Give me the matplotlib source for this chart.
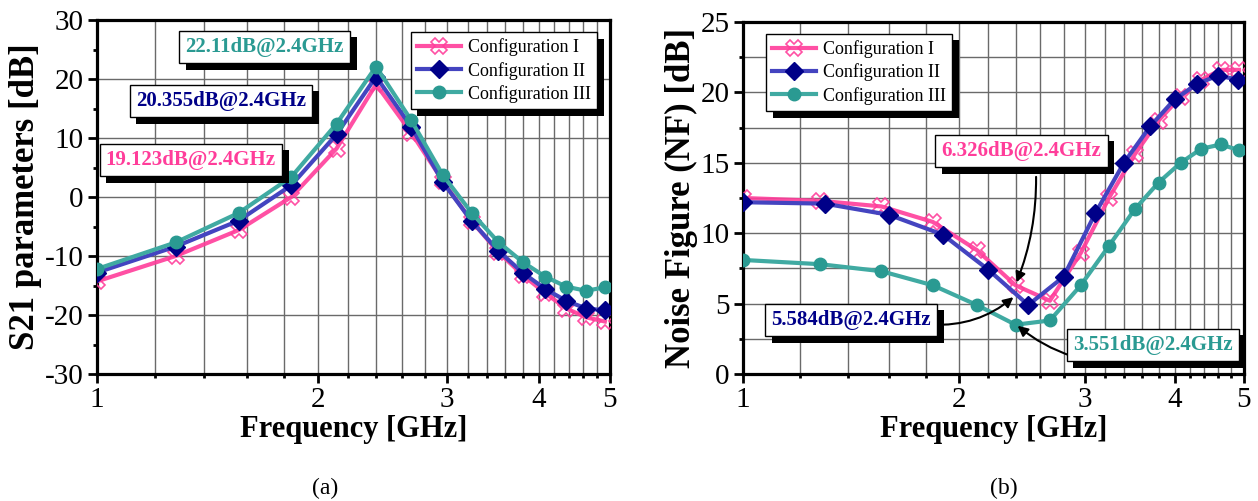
#!/usr/bin/env python3
# -*- coding: utf-8 -*-
"""
S21 / NF comparison of the three configurations
"""
import numpy as np
import matplotlib
matplotlib.use('Agg')
import matplotlib.pyplot as plt
from matplotlib.ticker import FixedLocator, FixedFormatter, NullFormatter
from matplotlib.transforms import ScaledTranslation
from matplotlib.patches import Rectangle

plt.rcParams['font.family'] = 'serif'
plt.rcParams['font.serif'] = ['Liberation Serif', 'DejaVu Serif']
plt.rcParams['axes.unicode_minus'] = False

# ---- data ----
freq_a = [1.00, 1.28, 1.56, 1.84, 2.12, 2.40, 2.68, 2.96, 3.24, 3.52, 3.80, 4.08, 4.36, 4.64, 4.92]
s21_cfg1 = [-14.3, -10.0, -5.6, 0.0, 8.2, 19.1, 10.9, 2.7, -4.1, -9.3, -13.2, -16.3, -18.9, -20.4, -21.1]
s21_cfg2 = [-12.8, -8.4, -4.0, 2.0, 10.6, 20.4, 11.9, 2.5, -4.1, -9.1, -12.8, -15.6, -17.6, -18.9, -19.2]
s21_cfg3 = [-12.2, -7.7, -2.7, 3.4, 12.4, 22.1, 13.0, 3.7, -2.7, -7.6, -11.0, -13.5, -15.2, -15.9, -15.3]

freq_b = [1.00, 1.28, 1.56, 1.84, 2.12, 2.40, 2.68, 2.96, 3.24, 3.52, 3.80, 4.08, 4.36, 4.64, 4.92]
freq_b2 = [1.0, 1.3, 1.6, 1.9, 2.2, 2.5, 2.8, 3.1, 3.4, 3.7, 4.0, 4.3, 4.6, 4.9]
nf_cfg1 = [12.5, 12.3, 11.9, 10.8, 8.8, 6.3, 5.2, 8.6, 12.5, 15.6, 18.0, 19.7, 20.9, 21.6, 21.6]
nf_cfg2 = [12.2, 12.1, 11.3, 9.9, 7.4, 4.9, 6.9, 11.4, 15.0, 17.6, 19.5, 20.6, 21.2, 20.9]
nf_cfg3 = [8.1, 7.8, 7.3, 6.3, 4.9, 3.5, 3.8, 6.3, 9.1, 11.7, 13.6, 15.0, 16.0, 16.3, 15.9]

labels = ['Configuration I', 'Configuration II', 'Configuration III']
x_ticks = [1, 2, 3, 4, 5]
x_ticklabels = ['1', '2', '3', '4', '5']

# peak / min annotations
s21_notes = ['19.123dB@2.4GHz', '20.355dB@2.4GHz', '22.11dB@2.4GHz']
nf_notes = ['6.326dB@2.4GHz', '5.584dB@2.4GHz', '3.551dB@2.4GHz']
nf_note_vals = [6.326, 5.584, 3.551]

# styles
PINK = '#FF3D9A'
NAVY = '#000088'
NAVY_LINE = '#4444C0'
TEAL = '#2A9A92'
TEAL_LINE = '#40AAA2'
GRID = '#6A6A6A'

styles = [
    dict(color=PINK, lw=3, marker='X', ms=11, mfc='none', mec=PINK, mew=1.2, alpha=0.9),
    dict(color=NAVY_LINE, lw=3, marker='D', ms=9, mfc=NAVY, mec=NAVY, mew=1),
    dict(color=TEAL_LINE, lw=3, marker='o', ms=9, mfc=TEAL, mec=TEAL, mew=1),
]
note_colors = [PINK, NAVY, TEAL]

SHADOW_OFF = 0.065  # inch


def style_axes(ax, ylim, ymajor, yminor, minor_grid):
    ax.set_xscale('log')
    ax.set_xlim(1, 5)
    ax.set_ylim(*ylim)
    ax.xaxis.set_major_locator(FixedLocator(x_ticks))
    ax.xaxis.set_major_formatter(FixedFormatter(x_ticklabels))
    minor = [round(v, 1) for v in np.arange(1.2, 5.0, 0.2) if abs(v - round(v)) > 1e-6]
    ax.xaxis.set_minor_locator(FixedLocator(minor))
    ax.xaxis.set_minor_formatter(NullFormatter())
    ax.yaxis.set_major_locator(FixedLocator(np.arange(ylim[0], ylim[1] + 0.1, ymajor)))
    ax.yaxis.set_minor_locator(FixedLocator(np.arange(ylim[0], ylim[1] + 0.1, yminor)))
    ax.tick_params(which='major', direction='out', length=6.5, width=2, labelsize=21, pad=3)
    ax.tick_params(which='minor', direction='out', length=3, width=2)
    for sp in ax.spines.values():
        sp.set_linewidth(2.3)
    ax.grid(True, which='major', color=GRID, lw=1)
    ax.grid(True, which='minor', axis='x', color=GRID, lw=1)
    if minor_grid:
        ax.grid(True, which='minor', axis='y', color=GRID, lw=1)
    ax.set_axisbelow(True)


def note_box(ax, x, y, text, color, fs=15):
    """白底黑框文本（阴影之后再加）"""
    return ax.text(x, y, text, transform=ax.transAxes, ha='center', va='center',
                   fontsize=fs, fontweight='bold', color=color, zorder=7,
                   bbox=dict(boxstyle='square,pad=0.3', fc='white', ec='black', lw=1))


def add_shadow(fig, ax, patch, zorder):
    bb = patch.get_window_extent()
    inv = ax.transAxes.inverted()
    (x0, y0), (x1, y1) = inv.transform([[bb.x0, bb.y0], [bb.x1, bb.y1]])
    off = ScaledTranslation(SHADOW_OFF, -SHADOW_OFF, fig.dpi_scale_trans)
    r = Rectangle((x0, y0), x1 - x0, y1 - y0, transform=ax.transAxes + off,
                  fc='black', ec='black', lw=0, zorder=zorder, clip_on=False)
    ax.add_patch(r)


fig = plt.figure(figsize=(12.58, 5.01), dpi=100)
ax1 = fig.add_axes([97 / 1258, 127 / 501, 513 / 1258, 354 / 501])
ax2 = fig.add_axes([743 / 1258, 127 / 501, 501 / 1258, 352 / 501])

# ---- (a) S21 ----
for y, st, lab in zip([s21_cfg1, s21_cfg2, s21_cfg3], styles, labels):
    ax1.plot(freq_a, y, label=lab, zorder=3, **st)
style_axes(ax1, (-30, 30), 10, 5, False)
ax1.set_xlabel('Frequency [GHz]', fontsize=22, fontweight='bold', labelpad=1)
ax1.set_ylabel('S21 parameters [dB]', fontsize=25, fontweight='bold', labelpad=2)
leg1 = ax1.legend(loc='upper right', bbox_to_anchor=(0.975, 0.966), borderaxespad=0,
                  fontsize=13, fancybox=False, edgecolor='black', framealpha=1,
                  handlelength=2.4, handletextpad=0.4, borderpad=0.35, labelspacing=0.3)
leg1.get_frame().set_linewidth(1)
leg1.set_zorder(8)

notes_a = [note_box(ax1, 0.183, 0.605, s21_notes[0], note_colors[0]),
           note_box(ax1, 0.242, 0.771, s21_notes[1], note_colors[1]),
           note_box(ax1, 0.327, 0.924, s21_notes[2], note_colors[2])]

# ---- (b) NF ----
ax2.plot(freq_b, nf_cfg1, label=labels[0], zorder=3, **styles[0])
ax2.plot(freq_b2, nf_cfg2, label=labels[1], zorder=3, **styles[1])
ax2.plot(freq_b, nf_cfg3, label=labels[2], zorder=3, **styles[2])
style_axes(ax2, (0, 25), 5, 2.5, True)
ax2.set_xlabel('Frequency [GHz]', fontsize=22, fontweight='bold', labelpad=1)
ax2.set_ylabel('Noise Figure (NF) [dB]', fontsize=25, fontweight='bold', labelpad=2)
leg2 = ax2.legend(loc='upper left', bbox_to_anchor=(0.046, 0.966), borderaxespad=0,
                  fontsize=13, fancybox=False, edgecolor='black', framealpha=1,
                  handlelength=2.4, handletextpad=0.4, borderpad=0.35, labelspacing=0.3)
leg2.get_frame().set_linewidth(1)
leg2.set_zorder(8)

note_pos = [(0.556, 0.634), (0.216, 0.153), (0.818, 0.082)]
arrow_start = [(0.585, 0.56), (0.376, 0.14), (0.658, 0.05)]
arrow_rad = [-0.1, 0.2, -0.1]
notes_b = [note_box(ax2, px, py, txt, col)
           for txt, col, (px, py) in zip(nf_notes, note_colors, note_pos)]
for val, (sx, sy), rad in zip(nf_note_vals, arrow_start, arrow_rad):
    ax2.annotate('', xy=(2.4, val), xycoords='data', xytext=(sx, sy), textcoords='axes fraction',
                 arrowprops=dict(arrowstyle='-|>', color='black', lw=1.5, mutation_scale=15,
                                 connectionstyle=f'arc3,rad={rad}', shrinkA=0, shrinkB=2),
                 zorder=5)

fig.text(325 / 1258, 1 - 488 / 501, '(a)', ha='center', va='center', fontsize=17)
fig.text(1004 / 1258, 1 - 488 / 501, '(b)', ha='center', va='center', fontsize=17)

# 阴影（黑色偏移矩形）
fig.canvas.draw()
for ax, leg, notes in [(ax1, leg1, notes_a), (ax2, leg2, notes_b)]:
    add_shadow(fig, ax, leg.get_frame(), 7.5)
    for t in notes:
        add_shadow(fig, ax, t.get_bbox_patch(), 6.5)

fig.savefig('out.png', dpi=100)
plt.close(fig)
